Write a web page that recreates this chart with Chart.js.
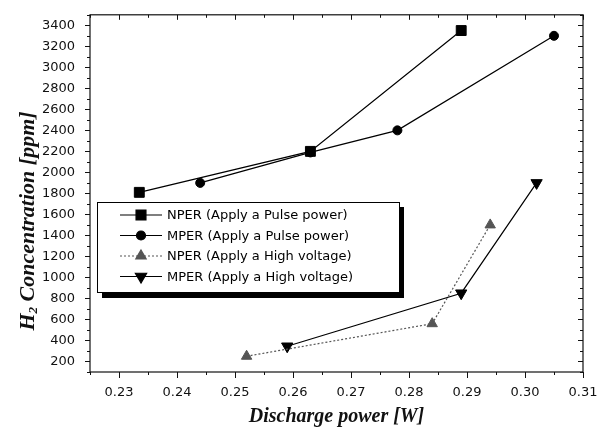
<!DOCTYPE html>
<html>
<head>
<meta charset="utf-8">
<script src="https://cdn.jsdelivr.net/npm/chart.js@4/dist/chart.umd.min.js"></script>
<style>
  html, body { margin:0; padding:0; background:#fff; }
  #wrap { width:604px; height:432px; }
</style>
</head>
<body>
<div id="wrap"><canvas id="chart" width="604" height="432"></canvas></div>
<script>
// values
const nperPulseX = [0.2335, 0.263, 0.289];
const nperPulseY = [1810, 2200, 3350];
const mperPulseX = [0.244, 0.263, 0.278, 0.305];
const mperPulseY = [1900, 2190, 2400, 3300];
const nperHvX    = [0.252, 0.284, 0.294];
const nperHvY    = [250, 560, 1500];
const mperHvX    = [0.259, 0.289, 0.302];
const mperHvY    = [345, 850, 1900];

const seriesLabels = [
    'NPER (Apply a Pulse power)',
    'MPER (Apply a Pulse power)',
    'NPER (Apply a High voltage)',
    'MPER (Apply a High voltage)',
];

const xTicks = [0.23, 0.24, 0.25, 0.26, 0.27, 0.28, 0.29, 0.30, 0.31];
const yTicks = [200, 400, 600, 800, 1000, 1200, 1400, 1600, 1800, 2000, 2200, 2400, 2600, 2800, 3000, 3200, 3400];

const pts = (xs, ys) => xs.map((x, i) => ({ x, y: ys[i] }));

// plot frame + major/minor ticks on all four sides
const frameTicks = {
    id: 'frameTicks',
    afterDraw(chart) {
        const { ctx, chartArea: a, scales: { x, y } } = chart;
        ctx.save();
        ctx.strokeStyle = '#111';
        ctx.lineWidth = 1.2;
        ctx.strokeRect(a.left, a.top, a.right - a.left, a.bottom - a.top);
        ctx.lineWidth = 1;
        ctx.beginPath();
        const xs = [];
        xTicks.forEach(v => { xs.push([v, true]); xs.push([+(v - 0.005).toFixed(3), false]); });
        xs.forEach(([v, major]) => {
            if (v < x.min || v > x.max) return;
            const px = Math.round(x.getPixelForValue(v)) + 0.5;
            ctx.moveTo(px, a.bottom); ctx.lineTo(px, a.bottom + (major ? 6 : 3));
            ctx.moveTo(px, a.top); ctx.lineTo(px, a.top + (major ? 5 : 3));
        });
        const ys = [];
        yTicks.forEach(v => { ys.push([v, true]); ys.push([v - 100, false]); });
        ys.push([3500, false]);
        ys.forEach(([v, major]) => {
            if (v < y.min || v > y.max) return;
            const py = Math.round(y.getPixelForValue(v)) + 0.5;
            const l = major ? 5 : 3;
            ctx.moveTo(a.left - l, py); ctx.lineTo(a.left, py);
            ctx.moveTo(a.right, py); ctx.lineTo(a.right - l, py);
        });
        ctx.stroke();
        ctx.restore();
    }
};

// y axis title with a real subscript, a bit below the plot centre like the original
const yTitle = {
    id: 'yTitle',
    afterDraw(chart) {
        const { ctx } = chart;
        ctx.save();
        ctx.translate(28, 221);
        ctx.rotate(-Math.PI / 2);
        ctx.fillStyle = '#111';
        ctx.textBaseline = 'middle';
        const big = 'italic bold 22px "Liberation Serif"';
        const small = 'italic bold 13px "Liberation Serif"';
        const rest = ' Concentration [ppm]';
        ctx.font = big;
        const wH = ctx.measureText('H').width, wR = ctx.measureText(rest).width;
        ctx.font = small;
        const w2 = ctx.measureText('2').width;
        let x0 = -(wH + w2 + wR) / 2;
        ctx.font = big;
        ctx.fillText('H', x0, 0);
        ctx.font = small;
        ctx.fillText('2', x0 + wH, 6);
        ctx.font = big;
        ctx.fillText(rest, x0 + wH + w2, 0);
        ctx.restore();
    }
};

// boxed legend with drop shadow, inside the plot
const boxLegend = {
    id: 'boxLegend',
    afterDraw(chart) {
        const { ctx } = chart;
        const bx = 97, by = 202, bw = 302, bh = 90;
        ctx.save();
        ctx.fillStyle = '#000';
        ctx.fillRect(bx + 5, by + 5, bw, bh + 1);
        ctx.fillStyle = '#fff';
        ctx.fillRect(bx, by, bw, bh);
        ctx.strokeStyle = '#000';
        ctx.lineWidth = 1;
        ctx.strokeRect(bx + 0.5, by + 0.5, bw, bh);
        ctx.font = '13px "DejaVu Sans"';
        ctx.textBaseline = 'middle';
        chart.data.datasets.forEach((ds, i) => {
            const cy = by + 13 + i * 20.5;
            ctx.strokeStyle = ds.borderColor;
            ctx.lineWidth = ds.borderWidth;
            ctx.setLineDash(ds.borderDash || []);
            ctx.beginPath();
            ctx.moveTo(120, cy); ctx.lineTo(162, cy);
            ctx.stroke();
            ctx.setLineDash([]);
            ctx.fillStyle = ds.pointBackgroundColor;
            ctx.strokeStyle = ds.pointBorderColor;
            Chart.helpers.drawPoint(ctx, {
                pointStyle: ds.pointStyle, radius: ds.pointRadius,
                rotation: ds.pointRotation || 0, borderWidth: 1
            }, 141, cy);
            ctx.fillStyle = '#000';
            ctx.fillText(ds.label, 167, cy + 1);
        });
        ctx.restore();
    }
};

const ds = (label, data, style, color, dash, rot, r) => ({
    label, data,
    showLine: true,
    borderColor: color,
    borderWidth: 1.2,
    borderDash: dash,
    pointStyle: style,
    pointRotation: rot,
    pointRadius: r,
    pointHoverRadius: r,
    pointBackgroundColor: color,
    pointBorderColor: color,
    pointBorderWidth: 1,
});

new Chart(document.getElementById('chart'), {
    type: 'scatter',
    data: {
        datasets: [
            ds(seriesLabels[0], pts(nperPulseX, nperPulseY), 'rect', '#000', [], 0, 7),
            ds(seriesLabels[1], pts(mperPulseX, mperPulseY), 'circle', '#000', [], 0, 4.5),
            ds(seriesLabels[2], pts(nperHvX, nperHvY), 'triangle', '#555', [2, 2], 0, 6),
            ds(seriesLabels[3], pts(mperHvX, mperHvY), 'triangle', '#000', [], 180, 6.5),
        ]
    },
    options: {
        responsive: false,
        animation: false,
        layout: { padding: { top: 8, right: 21, left: 0, bottom: 0 } },
        plugins: { legend: { display: false }, tooltip: { enabled: false } },
        scales: {
            x: {
                type: 'linear', min: 0.225, max: 0.31,
                grid: { display: false }, border: { display: false },
                afterBuildTicks: s => { s.ticks = xTicks.map(v => ({ value: v })); },
                afterFit: s => { s.height = 60; },
                ticks: {
                    padding: 5, color: '#111', maxRotation: 0,
                    font: { family: 'DejaVu Sans', size: 13 },
                    callback: v => v.toFixed(2)
                },
                title: {
                    display: true, text: 'Discharge power [W]', color: '#111',
                    font: { family: 'Liberation Serif', size: 20, style: 'italic', weight: 'bold' },
                    padding: { top: 0, bottom: 3 }
                }
            },
            y: {
                type: 'linear', min: 100, max: 3500,
                grid: { display: false }, border: { display: false },
                afterBuildTicks: s => { s.ticks = yTicks.map(v => ({ value: v })); },
                afterFit: s => { s.width = 90; },
                ticks: {
                    padding: 7, color: '#111',
                    font: { family: 'DejaVu Sans', size: 13 },
                    callback: v => String(v)
                },
                title: { display: false }
            }
        }
    },
    plugins: [frameTicks, yTitle, boxLegend]
});
</script>
</body>
</html>
